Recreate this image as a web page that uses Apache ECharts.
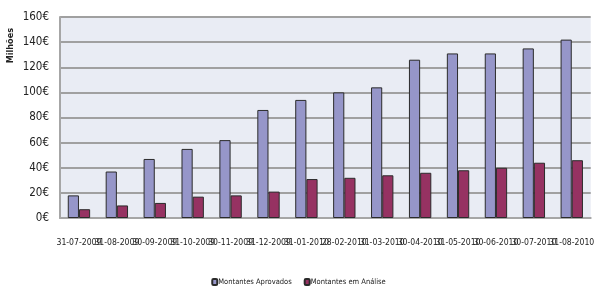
<!DOCTYPE html>
<html>
<head>
<meta charset="utf-8">
<script src="https://cdn.jsdelivr.net/npm/echarts@6/dist/echarts.min.js"></script>
<style>
  html, body { margin: 0; padding: 0; background: #fff; }
  #viz { width: 597px; height: 291px; }
</style>
</head>
<body>
<div id="viz"></div>
<script>
const dates = ['31-07-2009', '31-08-2009', '30-09-2009', '31-10-2009', '30-11-2009', '31-12-2009', '31-01-2010',
  '28-02-2010', '31-03-2010', '30-04-2010', '31-05-2010', '30-06-2010', '30-07-2010', '31-08-2010']
const aprovados = [18, 37, 47, 55, 62, 86, 94, 100, 104, 126, 131, 131, 135, 142]
const emAnalise = [7, 10, 12, 17, 18, 21, 31, 32, 34, 36, 38, 40, 44, 46]

const font = '"DejaVu Sans Condensed", "DejaVu Sans", sans-serif'

const myChart = echarts.init(document.getElementById('viz'))

const barStyle = (color) => ({ color, borderColor: '#2b2b2b', borderWidth: 1 })

myChart.setOption({
  animation: false,
  textStyle: { fontFamily: font },
  grid: { left: 60, right: 0, top: 17, bottom: 73, show: true, backgroundColor: '#e9ecf4', borderWidth: 0 },
  graphic: [{
    type: 'text',
    left: 6,
    top: 28,
    rotation: Math.PI / 2,
    style: { text: 'Milhões', font: 'bold 9px ' + font, fill: '#222' },
  }],
  xAxis: {
    type: 'category',
    data: dates,
    axisLine: { lineStyle: { color: '#a6a6a6', width: 2 } },
    axisTick: { show: false },
    axisLabel: { interval: 0, margin: 20, fontSize: 8.6, color: '#222', fontFamily: font },
  },
  yAxis: {
    type: 'value',
    min: 0,
    max: 160,
    interval: 20,
    axisLine: { show: true, lineStyle: { color: '#a6a6a6', width: 2 } },
    axisTick: { show: false },
    splitLine: { lineStyle: { color: '#a0a0a0', width: 2 } },
    axisLabel: { formatter: '{value}€', margin: 11, fontSize: 11.5, color: '#222', fontFamily: font },
  },
  legend: {
    bottom: 0,
    left: 'center',
    itemWidth: 5,
    itemHeight: 6,
    itemGap: 12,
    textStyle: { fontSize: 7.5, color: '#222', padding: [0, 0, 0, -4] },
    data: ['Montantes Aprovados', 'Montantes em Análise'],
  },
  series: [
    {
      name: 'Montantes Aprovados',
      type: 'bar',
      data: aprovados,
      barGap: '0%',
      barCategoryGap: '41%',
      itemStyle: barStyle('#9696c9'),
    },
    {
      name: 'Montantes em Análise',
      type: 'bar',
      data: emAnalise,
      itemStyle: barStyle('#963262'),
    },
  ],
})
</script>
</body>
</html>
